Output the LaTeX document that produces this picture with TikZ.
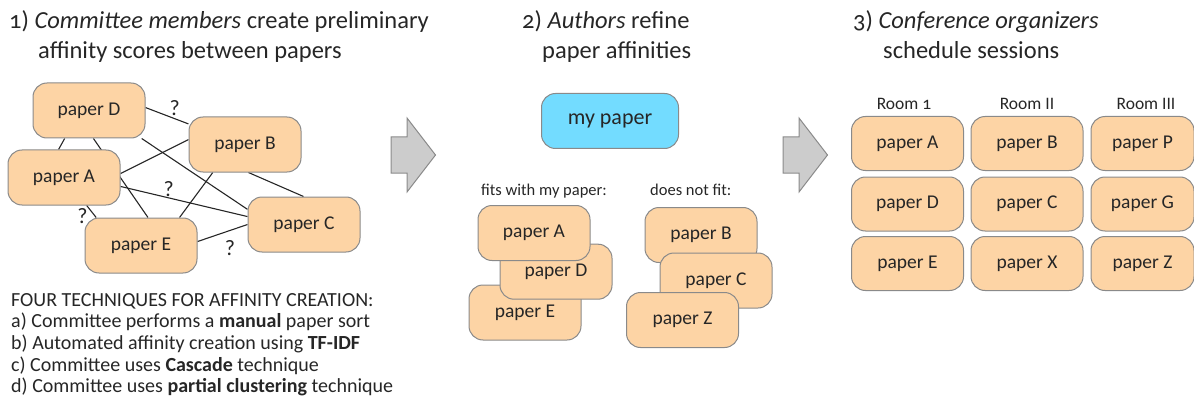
\documentclass[tikz,border=0pt]{standalone}
\usepackage{fontspec}
\setmainfont{Carlito}[Numbers=OldStyle]
\usetikzlibrary{backgrounds}

\definecolor{paperfill}{HTML}{FDD4A5}
\definecolor{minefill}{HTML}{73DCFF}
\definecolor{boxline}{HTML}{8A8A8A}
\definecolor{ink}{HTML}{262626}
\definecolor{arrowfill}{HTML}{CCCCCC}

\begin{document}
\begin{tikzpicture}[x=1pt, y=-1pt,
	paper/.style={draw=boxline, fill=paperfill, line width=1pt, rounded corners=14pt,
		minimum width=112pt, minimum height=55pt, inner sep=0pt, text=ink,
		font=\fontsize{19.5}{22}\selectfont},
	mine/.style={paper, fill=minefill, minimum width=137pt, font=\fontsize{22}{24}\selectfont},
	title/.style={anchor=base west, inner sep=0pt, text=ink, font=\fontsize{24.5}{28}\selectfont},
	caption/.style={anchor=base, inner sep=0pt, text=ink, font=\fontsize{16.5}{18}\selectfont},
	link/.style={draw=ink, line width=1.1pt},
	ask/.style={font=\fontsize{22}{24}\selectfont, text=ink, inner sep=1pt},
	steparrow/.style={draw=boxline, fill=arrowfill, line width=1pt}]

	\useasboundingbox (0,0) rectangle (1194,401);

	% headings
	\node[title] (t1a) at (9,29) {1) \textit{Committee members} create preliminary};
	\node[title] (t1b) at (38,59) {affinity scores between papers};
	\node[title] (t2a) at (522,29) {2) \textit{Authors} refine};
	\node[title] (t2b) at (542,59) {paper affinities};
	\node[title] (t3a) at (853,29) {3) \textit{Conference organizers}};
	\node[title] (t3b) at (883,59) {schedule sessions};

	% step 1: preliminary affinities
	\node[paper] (D) at (89,110.5) {paper D};
	\node[paper] (B) at (245,144.5) {paper B};
	\node[paper] (A) at (64,177.5) {paper A};
	\node[paper] (C) at (304,224.5) {paper C};
	\node[paper] (E) at (141,245.5) {paper E};
	\begin{scope}[on background layer]
		\draw[link] (D.3) -- node[ask, pos=0.68, above=1pt] {?} (B.160);
		\draw[link] (D.-131) -- (A.101);
		\draw[link] (D.-81) -- (E.76);
		\draw[link] (D.-28) -- (C.165);
		\draw[link] (A.4) -- (B.175);
		\draw[link] (A.-9) -- node[ask, pos=0.38, above=0pt] {?} (C.172);
		\draw[link] (A.-51) -- node[ask, pos=0.9, left=6pt] {?} (E.148);
		\draw[link] (B.-139) -- (E.36);
		\draw[link] (B.-83) -- (C.91);
		\draw[link] (E.4) -- node[ask, pos=0.65, below=8pt] {?} (C.west);
	\end{scope}

	\node[anchor=north west, align=left, inner sep=0pt, text=ink,
		font=\fontsize{20}{21.7}\selectfont] (tech) at (11,293)
		{FOUR TECHNIQUES FOR AFFINITY CREATION:\\
		a) Committee performs a \textbf{manual} paper sort\\
		b) Automated affinity creation using \textbf{TF-IDF}\\
		c) Committee uses \textbf{Cascade} technique\\
		d) Committee uses \textbf{partial clustering} technique};

	% step arrows
	\foreach \ax in {391,783}
		\draw[steparrow] (\ax,137) -- ++(16,0) -- ++(0,-19) -- ++(28.5,37)
			-- ++(-28.5,37) -- ++(0,-19) -- ++(-16,0) -- cycle;

	% step 2: authors sort
	\node[mine] (me) at (610,121) {my paper};
	\node[caption, anchor=base west] (fits) at (481,195) {fits with my paper:};
	\node[caption, anchor=base west] (nofit) at (650,195) {does not fit:};
	\node[paper] (fE) at (525,312.5) {paper E};
	\node[paper] (fD) at (556,271.7) {paper D};
	\node[paper] (fA) at (534,233) {paper A};
	\node[paper] (nB) at (701,235) {paper B};
	\node[paper] (nC) at (716,280.5) {paper C};
	\node[paper] (nZ) at (682.5,320) {paper Z};

	% step 3: sessions
	\foreach \col/\cx/\room in {1/904/Room 1, 2/1027/Room II, 3/1146/Room III}
		\node[caption, font=\fontsize{17.5}{19}\selectfont] (room\col) at (\cx,110) {\room};
	\foreach \name/\cx/\cy/\bw in {A/907.5/143.5/112, D/907.5/204/112, E/907.5/263.5/112,
			B/1027/143.5/112, C/1027/204/112, X/1027/263.5/112,
			P/1142.5/143.5/103, G/1142.5/204/103, Z/1142.5/263.5/103}
		\node[paper, minimum width=\bw pt, minimum height=54pt] (s\name) at (\cx,\cy) {paper \name};
\end{tikzpicture}
\end{document}
